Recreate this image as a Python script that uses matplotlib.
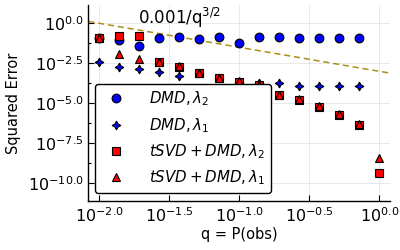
import numpy as np
import matplotlib
matplotlib.use("Agg")
import matplotlib.pyplot as plt

# log10(q) positions: 15 points from 10^-2 to 10^0
log_q = [-2.0, -1.857, -1.714, -1.571, -1.429, -1.286, -1.143, -1.0,
         -0.857, -0.714, -0.571, -0.429, -0.286, -0.143, 0.0]

# log10 of squared error
dmd_l2 = [-0.95, -1.04, -1.40, -0.90, -0.84, -0.98, -0.875, -1.25,
          -0.875, -0.84, -0.90, -0.90, -0.90, -0.90, np.nan]
dmd_l1 = [-2.44, -2.71, -2.875, -3.06, -3.27, -3.09, -3.44, -3.65,
          -3.71, -3.71, -3.92, -3.92, -3.92, -3.92, np.nan]
tsvd_l2 = [-0.94, -0.79, -0.79, -2.44, -2.71, -3.09, -3.44, -3.65,
           -3.85, -4.48, -4.79, -5.21, -5.71, -6.35, -9.38]
tsvd_l1 = [-0.95, -1.94, -2.25, -2.42, -2.67, -3.08, -3.42, -3.63,
           -3.83, -4.45, -4.76, -5.18, -5.68, -6.30, -8.40]

ref_coef = 0.001
ref_pow = 1.5

xtick_exp = [-2.0, -1.5, -1.0, -0.5, 0.0]
ytick_exp = [0.0, -2.5, -5.0, -7.5, -10.0]

q = 10.0 ** np.array(log_q)

fig = plt.figure(figsize=(4.0, 2.5), dpi=100)
ax = fig.add_axes([0.221, 0.196, 0.754, 0.784])

ax.set_xscale("log")
ax.set_yscale("log")

ms = 6.3
ax.plot(q, 10.0 ** np.array(dmd_l2), ls="none", marker="o", ms=ms,
        mfc="#0000ff", mec="black", mew=0.8, label=r"$DMD, \lambda_2$", zorder=3)
ax.plot(q, 10.0 ** np.array(dmd_l1), ls="none", marker=(4, 1, 0), ms=ms,
        mfc="#0000ff", mec="black", mew=0.8, label=r"$DMD, \lambda_1$", zorder=3)
ax.plot(q, 10.0 ** np.array(tsvd_l2), ls="none", marker="s", ms=ms - 0.3,
        mfc="#ff0000", mec="black", mew=0.8, label=r"$tSVD + DMD, \lambda_2$", zorder=3)
ax.plot(q, 10.0 ** np.array(tsvd_l1), ls="none", marker="^", ms=ms,
        mfc="#ff0000", mec="black", mew=0.8, label=r"$tSVD + DMD, \lambda_1$", zorder=3)

xlo, xhi = 10 ** -2.076, 10 ** 0.076
qq = np.array([xlo, xhi])
ax.plot(qq, ref_coef / qq ** ref_pow, ls=(0, (4, 2.5)), color="#AC8E18", lw=1.1, zorder=2)

ax.set_xlim(xlo, xhi)
ax.set_ylim(10 ** -11.1, 10 ** 1.14)

ax.set_xticks([10 ** e for e in xtick_exp])
ax.set_xticklabels([r"$10^{%.1f}$" % e for e in xtick_exp])
ax.set_yticks([10 ** e for e in ytick_exp])
ax.set_yticklabels([r"$10^{%.1f}$" % e for e in ytick_exp])
ax.set_yticks([10 ** (e - 1.25) for e in ytick_exp[:-1]], minor=True)
ax.set_xticks([], minor=True)

ax.tick_params(axis="both", which="major", direction="in", length=4, width=0.8, labelsize=11.5)
ax.tick_params(axis="y", which="minor", direction="in", length=2.5, width=0.8)
ax.grid(True, which="major", color="black", alpha=0.1, lw=0.6)

for s in ["top", "right"]:
    ax.spines[s].set_visible(False)
for s in ["left", "bottom"]:
    ax.spines[s].set_linewidth(1.0)

ax.text(10 ** -1.72, 10 ** 0.35, r"0.001/q$^{3/2}$", fontsize=12, ha="left", va="center")

ax.set_xlabel("q = P(obs)", fontsize=10.5, labelpad=2)
ax.set_ylabel("Squared Error", fontsize=10.5, labelpad=5)

leg = ax.legend(loc="lower left", bbox_to_anchor=(0.022, 0.041), borderaxespad=0,
                fontsize=10.8, frameon=True, fancybox=True, edgecolor="black",
                framealpha=1, labelspacing=0.5, handletextpad=1.2, borderpad=0.4)
leg.get_frame().set_linewidth(1.0)

fig.savefig("out.png", dpi=100)
